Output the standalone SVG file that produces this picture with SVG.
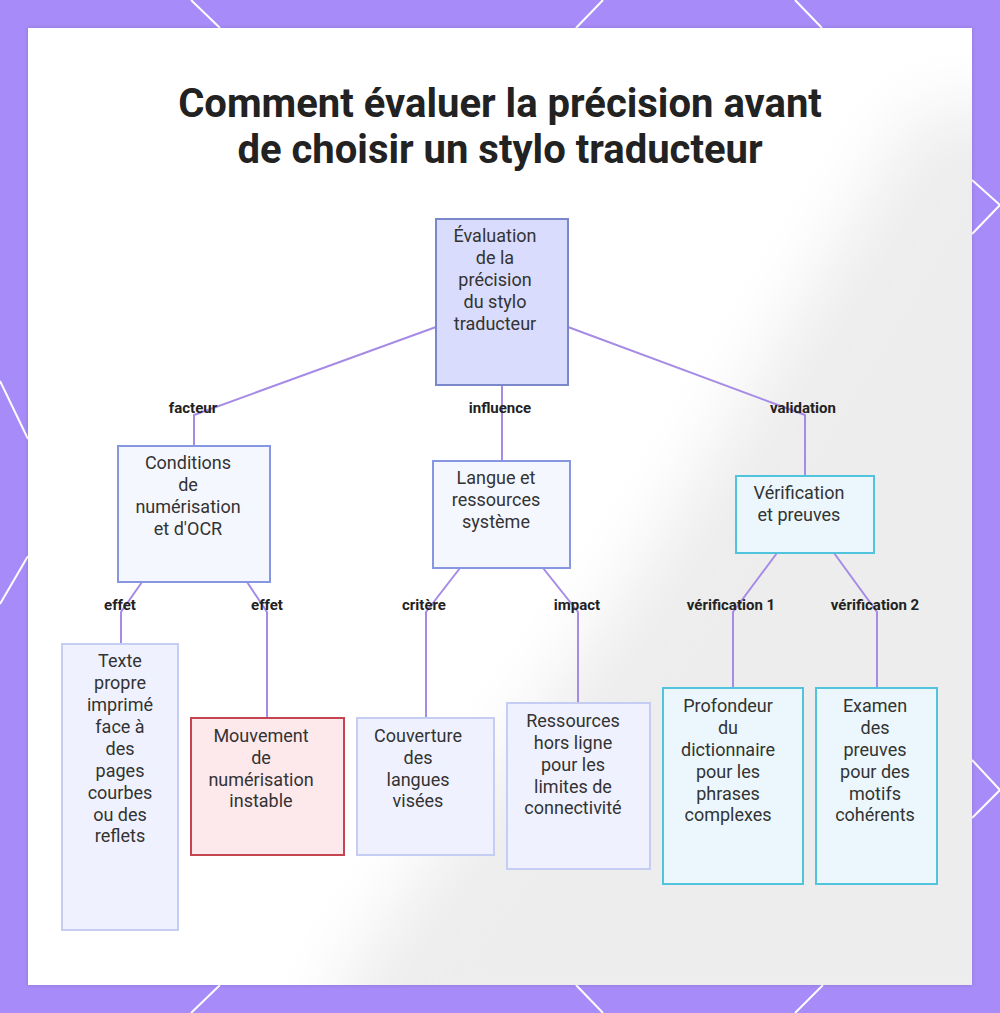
<svg xmlns="http://www.w3.org/2000/svg" width="1000" height="1013" viewBox="0 0 1000 1013">
<defs>
<style>
.hex{stroke:#ffffff;stroke-width:2;fill:none}
.title{font-family:Roboto,"Liberation Sans",sans-serif;font-weight:700;font-size:40px;fill:#222222;text-anchor:middle}
.nt{font-family:Roboto,"Liberation Sans",sans-serif;font-size:18px;fill:#333333;text-anchor:middle}
.lbl{font-family:Roboto,"Liberation Sans",sans-serif;font-weight:700;font-size:15px;fill:#222222;text-anchor:middle}
.edge{stroke:#a68be6;stroke-width:2;fill:none}
.n-root{fill:#d9dcfc;stroke:#7a87c8;stroke-width:2}
.n-mid{fill:#f5f7ff;stroke:#8796e0;stroke-width:2}
.n-cyan{fill:#ebf7fd;stroke:#52c3dd;stroke-width:2}
.n-leaf{fill:#eff2fe;stroke:#c6cdf3;stroke-width:2}
.n-red{fill:#fde8ec;stroke:#c44550;stroke-width:2}
</style>
<filter id="blur" x="-50%" y="-50%" width="200%" height="200%"><feGaussianBlur stdDeviation="35"/></filter>
<filter id="sh" x="-5%" y="-5%" width="110%" height="110%"><feDropShadow dx="0" dy="0" stdDeviation="2" flood-color="#000" flood-opacity="0.15"/></filter>
<clipPath id="panel"><rect x="28" y="28" width="944" height="957"/></clipPath>
</defs>
<rect x="0" y="0" width="1000" height="1013" fill="#a78bf8"/>
<g class="hex">
<line x1="191" y1="0" x2="220" y2="28"/>
<line x1="603" y1="0" x2="576" y2="28"/>
<line x1="795" y1="0" x2="822" y2="28"/>
<line x1="220" y1="985" x2="191" y2="1013"/>
<line x1="576" y1="985" x2="603" y2="1013"/>
<line x1="823" y1="985" x2="795" y2="1013"/>
<polyline points="972,180 1000,205 972,234"/>
<polyline points="972,760 1000,790 972,818"/>
<line x1="0" y1="381" x2="28" y2="439"/>
<line x1="28" y1="556" x2="0" y2="604"/>
</g>
<rect x="28" y="28" width="944" height="957" fill="#ffffff" filter="url(#sh)"/>
<g clip-path="url(#panel)">
<polygon points="920,110 1060,110 1060,1060 330,1060 340,985 640,570" fill="#ededed" filter="url(#blur)"/>
</g>
<g id="title">
<text class="title" x="500" y="117">Comment évaluer la précision avant</text>
<text class="title" x="500" y="163">de choisir un stylo traducteur</text>
</g>
<g id="connectors">
<polyline class="edge" points="436,327 194,415 194,446"/>
<polyline class="edge" points="502,385 502,461"/>
<polyline class="edge" points="568,327 805,415 805,476"/>
<polyline class="edge" points="142,582 121,612 121,644"/>
<polyline class="edge" points="247,582 267,612 267,718"/>
<polyline class="edge" points="460,568 426,612 426,718"/>
<polyline class="edge" points="543,568 578,612 578,703"/>
<polyline class="edge" points="777,553 733,612 733,688"/>
<polyline class="edge" points="834,553 877,612 877,688"/>
<text class="lbl" x="193" y="413">facteur</text>
<text class="lbl" x="500" y="413">influence</text>
<text class="lbl" x="803" y="413">validation</text>
<text class="lbl" x="120" y="610">effet</text>
<text class="lbl" x="267" y="610">effet</text>
<text class="lbl" x="424" y="610">critère</text>
<text class="lbl" x="577" y="610">impact</text>
<text class="lbl" x="731" y="610">vérification 1</text>
<text class="lbl" x="875" y="610">vérification 2</text>
</g>
<g id="root">
<rect class="n-root" x="436" y="219" width="132" height="166"/>
<text class="nt" x="495" y="242">Évaluation</text>
<text class="nt" x="495" y="264">de la</text>
<text class="nt" x="495" y="286">précision</text>
<text class="nt" x="495" y="308">du stylo</text>
<text class="nt" x="495" y="330">traducteur</text>
</g>
<g id="conditions">
<rect class="n-mid" x="118" y="446" width="152" height="136"/>
<text class="nt" x="188" y="469">Conditions</text>
<text class="nt" x="188" y="491">de</text>
<text class="nt" x="188" y="513">numérisation</text>
<text class="nt" x="188" y="535">et d'OCR</text>
</g>
<g id="langue">
<rect class="n-mid" x="433" y="461" width="137" height="107"/>
<text class="nt" x="496" y="484">Langue et</text>
<text class="nt" x="496" y="506">ressources</text>
<text class="nt" x="496" y="528">système</text>
</g>
<g id="verification">
<rect class="n-cyan" x="736" y="476" width="138" height="77"/>
<text class="nt" x="799" y="499">Vérification</text>
<text class="nt" x="799" y="521">et preuves</text>
</g>
<g id="texte">
<rect class="n-leaf" x="62" y="644" width="116" height="286"/>
<text class="nt" x="120" y="667">Texte</text>
<text class="nt" x="120" y="689">propre</text>
<text class="nt" x="120" y="711">imprimé</text>
<text class="nt" x="120" y="733">face à</text>
<text class="nt" x="120" y="755">des</text>
<text class="nt" x="120" y="777">pages</text>
<text class="nt" x="120" y="799">courbes</text>
<text class="nt" x="120" y="821">ou des</text>
<text class="nt" x="120" y="842">reflets</text>
</g>
<g id="mouvement">
<rect class="n-red" x="191" y="718" width="153" height="137"/>
<text class="nt" x="261" y="742">Mouvement</text>
<text class="nt" x="261" y="764">de</text>
<text class="nt" x="261" y="786">numérisation</text>
<text class="nt" x="261" y="807">instable</text>
</g>
<g id="couverture">
<rect class="n-leaf" x="357" y="718" width="137" height="137"/>
<text class="nt" x="418" y="742">Couverture</text>
<text class="nt" x="418" y="764">des</text>
<text class="nt" x="418" y="786">langues</text>
<text class="nt" x="418" y="807">visées</text>
</g>
<g id="ressources">
<rect class="n-leaf" x="507" y="703" width="143" height="166"/>
<text class="nt" x="573" y="727">Ressources</text>
<text class="nt" x="573" y="749">hors ligne</text>
<text class="nt" x="573" y="771">pour les</text>
<text class="nt" x="573" y="793">limites de</text>
<text class="nt" x="573" y="814">connectivité</text>
</g>
<g id="profondeur">
<rect class="n-cyan" x="663" y="688" width="140" height="196"/>
<text class="nt" x="728" y="712">Profondeur</text>
<text class="nt" x="728" y="734">du</text>
<text class="nt" x="728" y="756">dictionnaire</text>
<text class="nt" x="728" y="778">pour les</text>
<text class="nt" x="728" y="800">phrases</text>
<text class="nt" x="728" y="821">complexes</text>
</g>
<g id="examen">
<rect class="n-cyan" x="816" y="688" width="121" height="196"/>
<text class="nt" x="875" y="712">Examen</text>
<text class="nt" x="875" y="734">des</text>
<text class="nt" x="875" y="756">preuves</text>
<text class="nt" x="875" y="778">pour des</text>
<text class="nt" x="875" y="800">motifs</text>
<text class="nt" x="875" y="821">cohérents</text>
</g>
</svg>
